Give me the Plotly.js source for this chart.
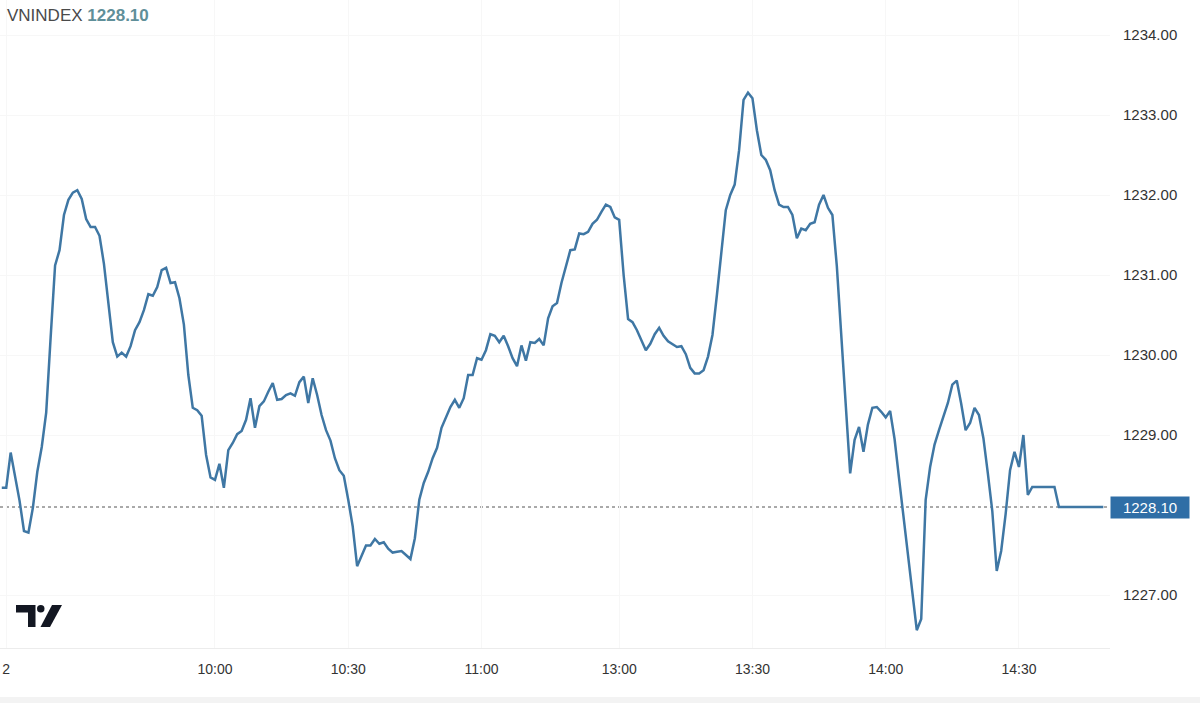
<!DOCTYPE html>
<html>
<head>
<meta charset="utf-8">
<script src="https://cdn.plot.ly/plotly-3.0.1.min.js"></script>
<style>html,body{margin:0;padding:0;background:#fff;}#chart{width:1200px;height:703px;}</style>
</head>
<body>
<div id="chart"></div>
<script>
// ---- data (one value per minute) ----
const symbol = "VNINDEX";
const lastPrice = 1228.10;
const morningStart = "09:12";
const morningPrices = [
 1228.34,1228.34,1228.78,1228.50,1228.18,1227.80,1227.78,1228.09,1228.54,1228.85,
 1229.28,1230.22,1231.12,1231.31,1231.75,1231.94,1232.03,1232.06,1231.95,1231.70,
 1231.60,1231.60,1231.49,1231.14,1230.64,1230.16,1229.98,1230.03,1229.98,1230.11,
 1230.31,1230.41,1230.56,1230.76,1230.74,1230.85,1231.06,1231.09,1230.90,1230.91,
 1230.71,1230.38,1229.75,1229.34,1229.31,1229.24,1228.75,1228.47,1228.44,1228.64,
 1228.34,1228.81,1228.90,1229.01,1229.05,1229.19,1229.46,1229.09,1229.36,1229.42,
 1229.54,1229.65,1229.44,1229.45,1229.50,1229.52,1229.49,1229.66,1229.73,1229.40,
 1229.71,1229.50,1229.25,1229.06,1228.93,1228.71,1228.56,1228.49,1228.19,1227.86,
 1227.36,1227.50,1227.62,1227.62,1227.70,1227.64,1227.66,1227.58,1227.53,1227.54,
 1227.55,1227.50,1227.45,1227.71,1228.19,1228.40,1228.54,1228.71,1228.84,1229.09,
 1229.23,1229.35,1229.44,1229.34,1229.46,1229.75,1229.75,1229.96,1229.94,1230.06,
 1230.26,1230.24,1230.16,1230.24,1230.11,1229.96,1229.86,1230.12,1229.93,1230.16,
 1230.15,1230.20,1230.12,1230.46,1230.61,1230.65,1230.90,1231.12,1231.31,1231.32,
 1231.52,1231.51,1231.54,1231.64,1231.69,1231.79,1231.88,1231.85,1231.72
];
const afternoonStart = "13:00";
const afternoonPrices = [
 1231.69,1231.00,1230.45,1230.41,1230.31,1230.19,1230.06,1230.14,1230.26,1230.34,
 1230.24,1230.17,1230.14,1230.10,1230.11,1230.01,1229.84,1229.77,1229.77,1229.81,
 1229.98,1230.25,1230.75,1231.25,1231.81,1232.00,1232.13,1232.56,1233.19,1233.28,
 1233.21,1232.81,1232.50,1232.44,1232.31,1232.06,1231.88,1231.85,1231.85,1231.75,
 1231.46,1231.58,1231.56,1231.64,1231.66,1231.88,1232.00,1231.84,1231.75,1231.11,
 1230.24,1229.35,1228.52,1228.94,1229.10,1228.79,1229.13,1229.34,1229.35,1229.29,
 1229.22,1229.30,1228.95,1228.46,1228.00,1227.50,1227.01,1226.56,1226.70,1228.19,
 1228.60,1228.88,1229.06,1229.23,1229.40,1229.63,1229.68,1229.39,1229.06,1229.15,
 1229.34,1229.25,1228.96,1228.52,1228.05,1227.30,1227.55,1228.01,1228.56,1228.79,
 1228.60,1229.00,1228.25,1228.35,1228.35,1228.35,1228.35,1228.35,1228.35,1228.10,
 1228.10,1228.10,1228.10,1228.10,1228.10,1228.10,1228.10,1228.10,1228.10,1228.10
];
const tickTimes  = ["09:13","10:00","10:30","11:00","13:00","13:30","14:00","14:30"];
const tickLabels = ["2","10:00","10:30","11:00","13:00","13:30","14:00","14:30"];
const yTicks = [1227,1229,1230,1231,1232,1233,1234];

// trading-time slot: minutes since 09:00, lunch break (11:30-13:00) removed
function toSlot(t){
  const [h,m] = t.split(':').map(Number);
  const mins = h*60 + m;
  if (mins <= 690) return mins - 540;
  return mins - 780 + 151;
}
const xs = [], ys = [];
morningPrices.forEach((v,i)=>{ xs.push(toSlot(morningStart)+i); ys.push(v); });
afternoonPrices.forEach((v,i)=>{ xs.push(toSlot(afternoonStart)+i); ys.push(v); });

const W = 1110, H = 648;
const px = p => p / W;
const py = p => 1 - p / H;

const logoColor = '#131722';
const shapes = [
  {type:'line', xref:'paper', yref:'y', x0:0, x1:1, y0:lastPrice, y1:lastPrice,
   line:{color:'#555', width:1, dash:'dot'}, layer:'below'},
  {type:'path', xref:'paper', yref:'paper', fillcolor:logoColor, line:{width:0},
   path:`M${px(16)},${py(605)} L${px(35.5)},${py(605)} L${px(35.5)},${py(627)} L${px(28)},${py(627)} L${px(28)},${py(612.5)} L${px(16)},${py(612.5)} Z`},
  {type:'circle', xref:'paper', yref:'paper', fillcolor:logoColor, line:{width:0},
   x0:px(37), x1:px(44.5), y0:py(605), y1:py(612.5)},
  {type:'path', xref:'paper', yref:'paper', fillcolor:logoColor, line:{width:0},
   path:`M${px(52)},${py(605)} L${px(62)},${py(605)} L${px(50)},${py(627)} L${px(40.5)},${py(627)} Z`},
  {type:'rect', xref:'paper', yref:'paper', x0:-0.01, x1:1.1, y0:py(697), y1:py(710),
   fillcolor:'#f3f3f3', line:{width:0}}
];

const trace = {
  x: xs, y: ys, type:'scatter', mode:'lines',
  line:{color:'#3f77a4', width:2.5}, hoverinfo:'skip'
};

const layout = {
  width:1200, height:703,
  margin:{l:0, r:90, t:0, b:55},
  paper_bgcolor:'#ffffff', plot_bgcolor:'#ffffff',
  showlegend:false,
  font:{family:'"Liberation Sans", Arial, sans-serif', color:'#333'},
  xaxis:{
    range:[11.6, 261.5], tickmode:'array',
    tickvals: tickTimes.map(toSlot), ticktext: tickLabels,
    showgrid:true, gridcolor:'#f7f7f7', zeroline:false,
    showline:true, linecolor:'#ececec', linewidth:1,
    ticks:'', tickfont:{size:14, color:'#333'}, ticklabelstandoff:8,
    ticklabeloverflow:'allow'
  },
  yaxis:{
    range:[1226.3375, 1234.4375], side:'right', tickmode:'array',
    tickvals:yTicks, tickformat:'.2f',
    showgrid:true, gridcolor:'#f7f7f7', zeroline:false, showline:false,
    ticks:'', tickfont:{size:15, color:'#333'}, ticklabelstandoff:12
  },
  shapes: shapes,
  annotations:[
    {xref:'paper', yref:'paper', x:0, y:1, xanchor:'left', yanchor:'middle',
     xshift:5, yshift:-15, showarrow:false, align:'left',
     text:`<span style="color:#4a4a4a">${symbol}</span> <b><span style="color:#5f8f99">${lastPrice.toFixed(2)}</span></b>`,
     font:{size:17}},
    {xref:'paper', yref:'y', x:1, y:lastPrice, xanchor:'left', yanchor:'middle',
     showarrow:false, text:lastPrice.toFixed(2), bgcolor:'#2f6ea6',
     width:74, height:17, borderpad:2, align:'center',
     font:{size:15, color:'#ffffff'}}
  ]
};

Plotly.newPlot('chart', [trace], layout, {displayModeBar:false, staticPlot:true});
</script>
</body>
</html>
